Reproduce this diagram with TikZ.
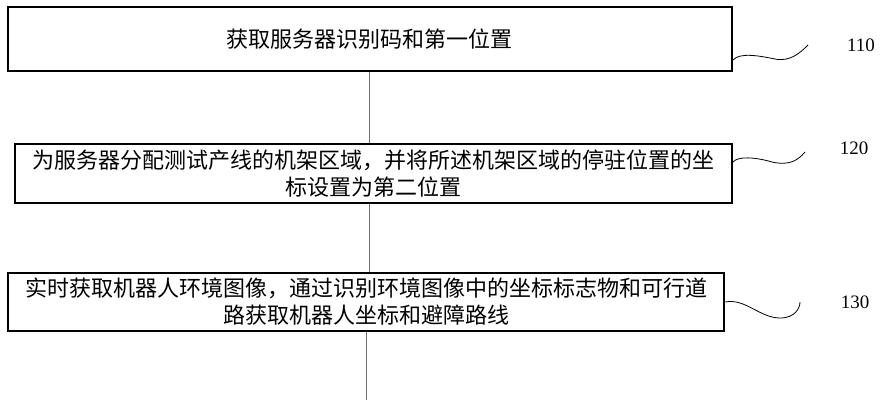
\documentclass[tikz,border=0pt]{standalone}
\usepackage{fontspec}
\newfontfamily\cjk{Noto Sans CJK SC}
\newfontfamily\numfont{Liberation Serif}
\usepackage{tikz}

\begin{document}
\begin{tikzpicture}[x=1pt,y=-1pt,
  stepbox/.style={draw, line width=2pt, inner sep=0pt, align=center,
    font=\fontsize{22}{27}\selectfont\cjk},
  leader/.style={line width=0.8pt},
  flowline/.style={draw=black!55, line width=0.7pt},
  steplabel/.style={font=\fontsize{19}{22}\selectfont\numfont}]
\useasboundingbox (0,0) rectangle (885,400);
%% Steps
\node[stepbox, minimum width=724.5pt, minimum height=63.5pt] (b1) at (369.75,38.75)
  {获取服务器识别码和第一位置};
\node[stepbox, minimum width=717pt, minimum height=59pt] (b2) at (373.5,173.5)
  {为服务器分配测试产线的机架区域，并将所述机架区域的停驻位置的坐\\标设置为第二位置};
\node[stepbox, minimum width=716.5pt, minimum height=58.3pt] (b3) at (366,302)
  {实时获取机器人环境图像，通过识别环境图像中的坐标标志物和可行道\\路获取机器人坐标和避障路线};
%% Flow
\coordinate (bottom) at (365,400);
\draw[flowline] (b1.south) -- (b1.south |- b2.north);
\draw[flowline] (b1.south |- b2.south) -- (b1.south |- b3.north);
\draw[flowline] (b3.south) -- (b3.south |- bottom);
%% Labels
\node[steplabel] (l110) at (861,45) {110};
\node[steplabel] (l120) at (854,148) {120};
\node[steplabel] (l130) at (855,302) {130};
\coordinate (w1) at (808,45);
\coordinate (w2) at (805,152);
\coordinate (w3) at (800,302);
\draw[leader] (b1.east |- 0,60) .. controls (740,52) and (760,56) .. (775,59)
  .. controls (790,62) and (800,53) .. (w1);
\draw[leader] (b2.east |- 0,162) .. controls (738,156) and (755,157) .. (772,162)
  .. controls (790,166) and (798,160) .. (w2);
\draw[leader] (b3.east |- 0,302) .. controls (745,298) and (760,318) .. (780,318)
  .. controls (795,318) and (800,308) .. (w3);
\end{tikzpicture}
\end{document}
